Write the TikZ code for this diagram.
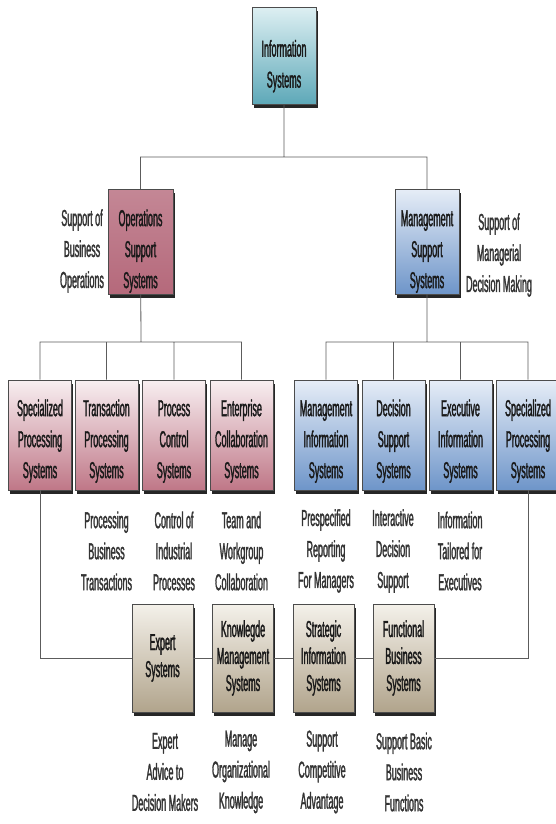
\documentclass[tikz,border=0pt]{standalone}
\usepackage{fontspec}
\newfontfamily\narrowfont[FakeStretch=0.39, FakeBold=1.3]{Liberation Sans}
\usetikzlibrary{shadows}
\newcommand\pushdown[1]{\rule{0pt}{#1}}
\definecolor{linegray}{HTML}{5C5C5C}
\definecolor{txtgray}{HTML}{333333}
\definecolor{tealtop}{HTML}{DDEFF2}
\definecolor{tealbot}{HTML}{5DA8B8}
\definecolor{rosetop}{HTML}{F8EFF1}
\definecolor{rosebot}{HTML}{BF7787}
\definecolor{rosedark}{HTML}{B5697B}
\definecolor{bluetop}{HTML}{E6EDF7}
\definecolor{bluebot}{HTML}{6E95C9}
\definecolor{tantop}{HTML}{F4F1EA}
\definecolor{tanbot}{HTML}{B1A48C}
\tikzset{
	sysbox/.style={draw=black!70, line width=0.6pt, minimum width=63pt, minimum height=110pt,
		inner sep=1pt, align=center, text=black!90,
		font=\narrowfont\fontsize{23}{31}\selectfont,
		drop shadow={shadow xshift=1.5pt, shadow yshift=-4pt, opacity=1, fill=black!85}},
	tealbox/.style={sysbox, top color=tealtop, bottom color=tealbot},
	opsbox/.style={sysbox, top color=rosedark!80!white, bottom color=rosedark},
	rosebox/.style={sysbox, top color=rosetop, bottom color=rosebot},
	bluebox/.style={sysbox, top color=bluetop, bottom color=bluebot},
	tanbox/.style={sysbox, top color=tantop, bottom color=tanbot, minimum width=61pt,
		minimum height=108pt, font=\narrowfont\fontsize{23}{27}\selectfont},
	note/.style={align=center, inner sep=0pt, text=txtgray,
		font=\narrowfont\fontsize{23}{31}\selectfont},
	link/.style={draw=linegray, line width=0.8pt}
}
\begin{document}
\begin{tikzpicture}[x=1pt, y=-1pt]
	\useasboundingbox[fill=white] (0,0) rectangle (555,824);
	\node[tealbox, minimum width=64pt, minimum height=97pt] at (284,56) (info) {\pushdown{37pt}Information\\Systems};
	\node[opsbox, minimum width=65pt, minimum height=99pt] at (140.5,241.5) (oss) {\pushdown{36pt}Operations\\Support\\Systems};
	\node[bluebox, minimum width=64pt, minimum height=101pt] at (427,241.5) (mss) {\pushdown{36pt}Management\\Support\\Systems};
	\node[note] at (82,251) (ossnote) {Support of\\Business\\Operations};
	\node[note] at (499,255) (mssnote) {Support of\\Managerial\\Decision Making};
	\node[rosebox] at (40,435) (spl) {\pushdown{29pt}Specialized\\Processing\\Systems};
	\node[rosebox] at (106.5,435) (tps) {\pushdown{29pt}Transaction\\Processing\\Systems};
	\node[rosebox] at (174,435) (pcs) {\pushdown{29pt}Process\\Control\\Systems};
	\node[rosebox] at (241.5,435) (ecs) {\pushdown{29pt}Enterprise\\Collaboration\\Systems};
	\node[bluebox] at (326,435) (mis) {\pushdown{29pt}Management\\Information\\Systems};
	\node[bluebox] at (393.5,435) (dss) {\pushdown{29pt}Decision\\Support\\Systems};
	\node[bluebox] at (460.5,435) (eis) {\pushdown{29pt}Executive\\Information\\Systems};
	\node[bluebox] at (528,435) (spr) {\pushdown{29pt}Specialized\\Processing\\Systems};
	\node[note] at (106.5,551) (tpsnote) {Processing\\Business\\Transactions};
	\node[note] at (174,551) (pcsnote) {Control of\\Industrial\\Processes};
	\node[note] at (241.5,551) (ecsnote) {Team and\\Workgroup\\Collaboration};
	\node[note] at (326,551) (misnote) {Prespecified\\Reporting\\For Managers};
	\node[note] at (393,551) (dssnote) {Interactive\\Decision\\Support};
	\node[note] at (460,551) (eisnote) {Information\\Tailored for\\Executives};
	\coordinate (top) at (284,157);
	\coordinate (opsjoin) at (141,342);
	\coordinate (mgtjoin) at (427,342);
	\path[link] (info) -- (top)
	(oss.north) |- (top) -| (mss.north)
	(oss) -- (opsjoin)
	(mss) -- (mgtjoin)
	(spl.north) |- (opsjoin) -| (ecs.north)
	(tps.north) -- (tps.north |- opsjoin)
	(pcs.north) -- (pcs.north |- opsjoin)
	(mis.north) |- (mgtjoin) -| (spr.north)
	(dss.north) -- (dss.north |- mgtjoin)
	(eis.north) -- (eis.north |- mgtjoin);
	\node[tanbox] at (162.5,658) (exs) {Expert\\Systems};
	\node[tanbox] at (243,658) (kms) {Knowlegde\\Management\\Systems};
	\node[tanbox] at (323.5,658) (sis) {Strategic\\Information\\Systems};
	\node[tanbox] at (403.5,658) (fbs) {Functional\\Business\\Systems};
	\path[link] (spl.south) |- (exs.west)
	(exs) -- (kms)
	(kms) -- (sis)
	(sis) -- (fbs)
	(fbs.east) -| (spr.south);
	\node[note] at (165,772) (exsnote) {Expert\\Advice to\\Decision Makers};
	\node[note] at (241,772) (kmsnote) {Manage\\Organizational\\Knowledge};
	\node[note] at (322,772) (sisnote) {Support\\Competitive\\Advantage};
	\node[note] at (404,772) (fbsnote) {Support Basic\\Business\\Functions};
\end{tikzpicture}
\end{document}
